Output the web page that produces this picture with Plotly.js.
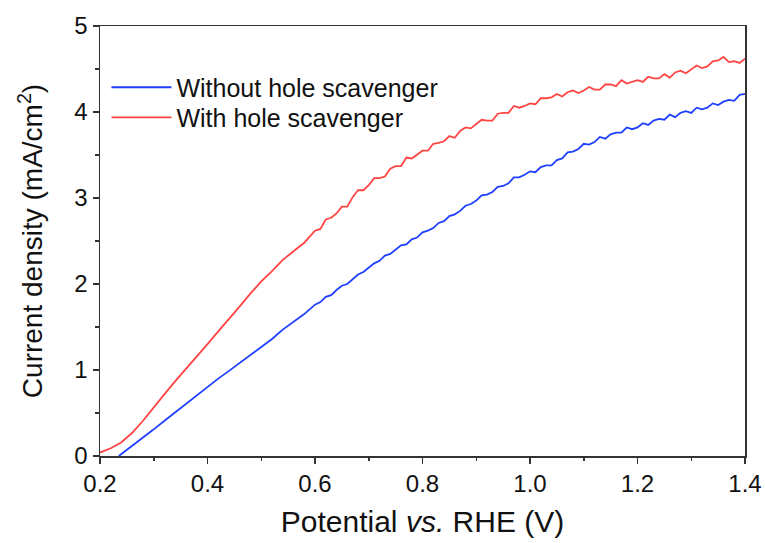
<!DOCTYPE html>
<html>
<head>
<meta charset="utf-8">
<script src="https://cdn.plot.ly/plotly-3.0.1.min.js"></script>
<style>html,body{margin:0;padding:0;background:#fff;}#chart{width:765px;height:543px;}</style>
</head>
<body>
<div id="chart"></div>
<script>
// Potential (V vs RHE) and current density (mA/cm2)
const potentialWithout = [0.235,0.25,0.26,0.28,0.30,0.32,0.34,0.36,0.38,0.40,0.42,0.44,0.46,0.48,0.50,0.52,0.54,0.56,0.58,
  0.60,0.61,0.62,0.63,0.64,0.65,0.66,0.67,0.68,0.69,0.70,0.71,0.72,0.73,0.74,0.75,0.76,0.77,0.78,0.79,
  0.80,0.81,0.82,0.83,0.84,0.85,0.86,0.87,0.88,0.89,0.90,0.91,0.92,0.93,0.94,0.95,0.96,0.97,0.98,0.99,
  1.00,1.01,1.02,1.03,1.04,1.05,1.06,1.07,1.08,1.09,1.10,1.11,1.12,1.13,1.14,1.15,1.16,1.17,1.18,1.19,
  1.20,1.21,1.22,1.23,1.24,1.25,1.26,1.27,1.28,1.29,1.30,1.31,1.32,1.33,1.34,1.35,1.36,1.37,1.38,1.39,1.40];
const currentWithout = [0.00,0.07,0.12,0.22,0.31,0.41,0.51,0.61,0.71,0.80,0.90,0.99,1.08,1.17,1.27,1.36,1.47,1.56,1.65,
  1.76,1.79,1.85,1.87,1.93,1.98,2.00,2.06,2.11,2.14,2.19,2.24,2.27,2.33,2.35,2.40,2.45,2.46,2.52,2.54,
  2.60,2.62,2.65,2.71,2.73,2.79,2.81,2.85,2.91,2.93,2.97,3.03,3.04,3.07,3.13,3.14,3.17,3.24,3.24,3.27,
  3.31,3.30,3.36,3.38,3.38,3.44,3.46,3.53,3.54,3.57,3.63,3.62,3.65,3.71,3.69,3.74,3.76,3.76,3.82,3.80,
  3.82,3.87,3.85,3.90,3.92,3.91,3.97,3.94,3.99,4.01,3.99,4.05,4.03,4.05,4.10,4.08,4.12,4.14,4.13,4.20,4.21];

const potentialWith = [0.20,0.22,0.24,0.26,0.28,0.30,0.32,0.34,0.36,0.38,0.40,0.42,0.44,0.46,0.48,0.50,0.52,0.54,0.56,0.58,
  0.60,0.61,0.62,0.63,0.64,0.65,0.66,0.67,0.68,0.69,0.70,0.71,0.72,0.73,0.74,0.75,0.76,0.77,0.78,0.79,
  0.80,0.81,0.82,0.83,0.84,0.85,0.86,0.87,0.88,0.89,0.90,0.91,0.92,0.93,0.94,0.95,0.96,0.97,0.98,0.99,
  1.00,1.01,1.02,1.03,1.04,1.05,1.06,1.07,1.08,1.09,1.10,1.11,1.12,1.13,1.14,1.15,1.16,1.17,1.18,1.19,
  1.20,1.21,1.22,1.23,1.24,1.25,1.26,1.27,1.28,1.29,1.30,1.31,1.32,1.33,1.34,1.35,1.36,1.37,1.38,1.39,1.40];
const currentWith = [0.04,0.09,0.16,0.27,0.41,0.57,0.72,0.87,1.01,1.16,1.30,1.45,1.59,1.74,1.89,2.03,2.15,2.28,2.38,2.48,
  2.62,2.64,2.75,2.77,2.82,2.90,2.90,3.01,3.09,3.09,3.15,3.23,3.23,3.25,3.34,3.37,3.37,3.47,3.46,3.50,
  3.55,3.55,3.63,3.64,3.66,3.72,3.70,3.78,3.82,3.81,3.86,3.91,3.90,3.90,3.98,3.99,3.99,4.07,4.05,4.07,
  4.10,4.09,4.16,4.16,4.17,4.21,4.18,4.23,4.25,4.22,4.25,4.29,4.26,4.26,4.32,4.32,4.30,4.37,4.33,4.35,
  4.37,4.35,4.41,4.39,4.39,4.44,4.40,4.46,4.48,4.45,4.49,4.54,4.51,4.53,4.59,4.60,4.64,4.58,4.59,4.57,4.62];

const seriesNames = ['Without hole scavenger', 'With hole scavenger'];
const xTicks = [0.2,0.4,0.6,0.8,1.0,1.2,1.4];
const xTickText = ['0.2','0.4','0.6','0.8','1.0','1.2','1.4'];
const yTicks = [0,1,2,3,4,5];

const FONT = 'Liberation Sans, Arial, sans-serif';

const traces = [
  {x: potentialWithout, y: currentWithout, name: seriesNames[0], type: 'scatter', mode: 'lines',
   line: {color: '#2040ff', width: 1.8}, legend: 'legend'},
  {x: potentialWith, y: currentWith, name: seriesNames[1], type: 'scatter', mode: 'lines',
   line: {color: '#ff4444', width: 1.8}, legend: 'legend2'}
];

const axisCommon = {
  showgrid: false, zeroline: false, showline: true, mirror: true,
  linecolor: '#333', linewidth: 1.5, ticks: 'outside', ticklen: 6, tickwidth: 1.5, tickcolor: '#333',
  tickfont: {family: FONT, size: 24, color: '#111'},
  minor: {ticks: 'outside', ticklen: 3.5, tickwidth: 1.5, tickcolor: '#333', showgrid: false}
};

const legendCommon = {
  x: 0.01, xanchor: 'left', yanchor: 'middle', bgcolor: 'rgba(0,0,0,0)',
  font: {family: FONT, size: 25, color: '#111'}, itemwidth: 60
};

const layout = {
  width: 765, height: 543,
  margin: {l: 100, r: 20, t: 26, b: 87},
  paper_bgcolor: '#fff', plot_bgcolor: '#fff',
  showlegend: true,
  legend: Object.assign({}, legendCommon, {y: 0.857}),
  legend2: Object.assign({}, legendCommon, {y: 0.787}),
  xaxis: Object.assign({}, axisCommon, {
    range: [0.2, 1.4], tickvals: xTicks, ticktext: xTickText,
    minor: Object.assign({}, axisCommon.minor, {dtick: 0.1, tick0: 0.2}),
    title: {text: 'Potential <i>vs.</i> RHE (V)', font: {family: FONT, size: 30, color: '#111'}, standoff: 14}
  }),
  yaxis: Object.assign({}, axisCommon, {
    range: [0, 5], tickvals: yTicks,
    minor: Object.assign({}, axisCommon.minor, {dtick: 0.5, tick0: 0}),
    title: {text: 'Current density (mA/cm<sup>2</sup>)', font: {family: FONT, size: 28, color: '#111'}, standoff: 23}
  })
};

Plotly.newPlot('chart', traces, layout, {displayModeBar: false, staticPlot: true});
</script>
</body>
</html>
